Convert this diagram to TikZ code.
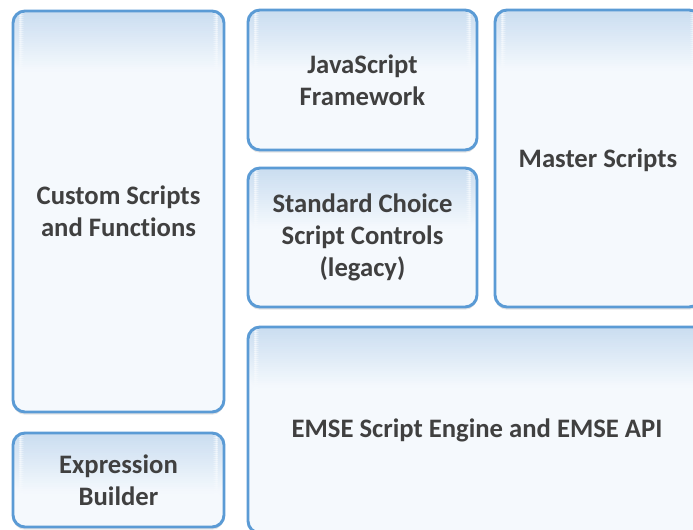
\documentclass[tikz,border=0pt]{standalone}
\usepackage{fontspec}
\setmainfont{Carlito}[RawFeature={-liga;-clig}]
\usepackage{xcolor}
\usetikzlibrary{positioning, shadows}

\definecolor{edgeblue}{HTML}{5B9BD5}
\definecolor{bandtop}{HTML}{CADDF0}
\definecolor{boxfill}{HTML}{F5F9FD}
\definecolor{txtgray}{HTML}{404040}

\begin{document}
\begin{tikzpicture}[x=0.75pt, y=0.75pt,
  blk/.style = {draw=edgeblue, line width=2.2pt, rounded corners=9pt, fill=boxfill,
    path picture={
      \foreach \i in {0,...,29}{
        \pgfmathtruncatemacro\pct{100-100*\i/30}
        \pgfmathsetmacro\ya{-1.5*\i}
        \pgfmathsetmacro\yb{-1.5*\i-1.7}
        \fill[bandtop!\pct!boxfill] ([yshift=\ya pt]path picture bounding box.north west)
          rectangle ([yshift=\yb pt]path picture bounding box.north east);
      }},
    drop shadow={shadow xshift=0pt, shadow yshift=-2pt, opacity=0.1, fill=black},
    text=txtgray, font=\bfseries\fontsize{20pt}{24pt}\selectfont, align=center,
    inner sep=0pt}]
\clip (0,0) rectangle (693,-529);
\fill[white] (0,0) rectangle (693,-529);
\node[blk, minimum width=158.25pt, minimum height=300.75pt] (cust) at (118.5,-211.5) {Custom Scripts\\and Functions};
\node[blk, minimum width=158.25pt, minimum height=70.5pt] (expr) at (118.5,-480) {Expression\\Builder};
\node[blk, minimum width=171.75pt, minimum height=105pt] (js) at (362.5,-80) {JavaScript\\Framework};
\node[blk, minimum width=171.75pt, minimum height=104.25pt] (std) at (362.5,-237.5) {Standard Choice\\Script Controls\\(legacy)};
\node[blk, minimum width=154.5pt, minimum height=222.75pt, text depth=0pt] (master) at (598,-158.5) {Master Scripts};
\node[blk, minimum width=343.5pt, minimum height=154.5pt] (emse) at (477,-430) {EMSE Script Engine and EMSE API};
\end{tikzpicture}
\end{document}
